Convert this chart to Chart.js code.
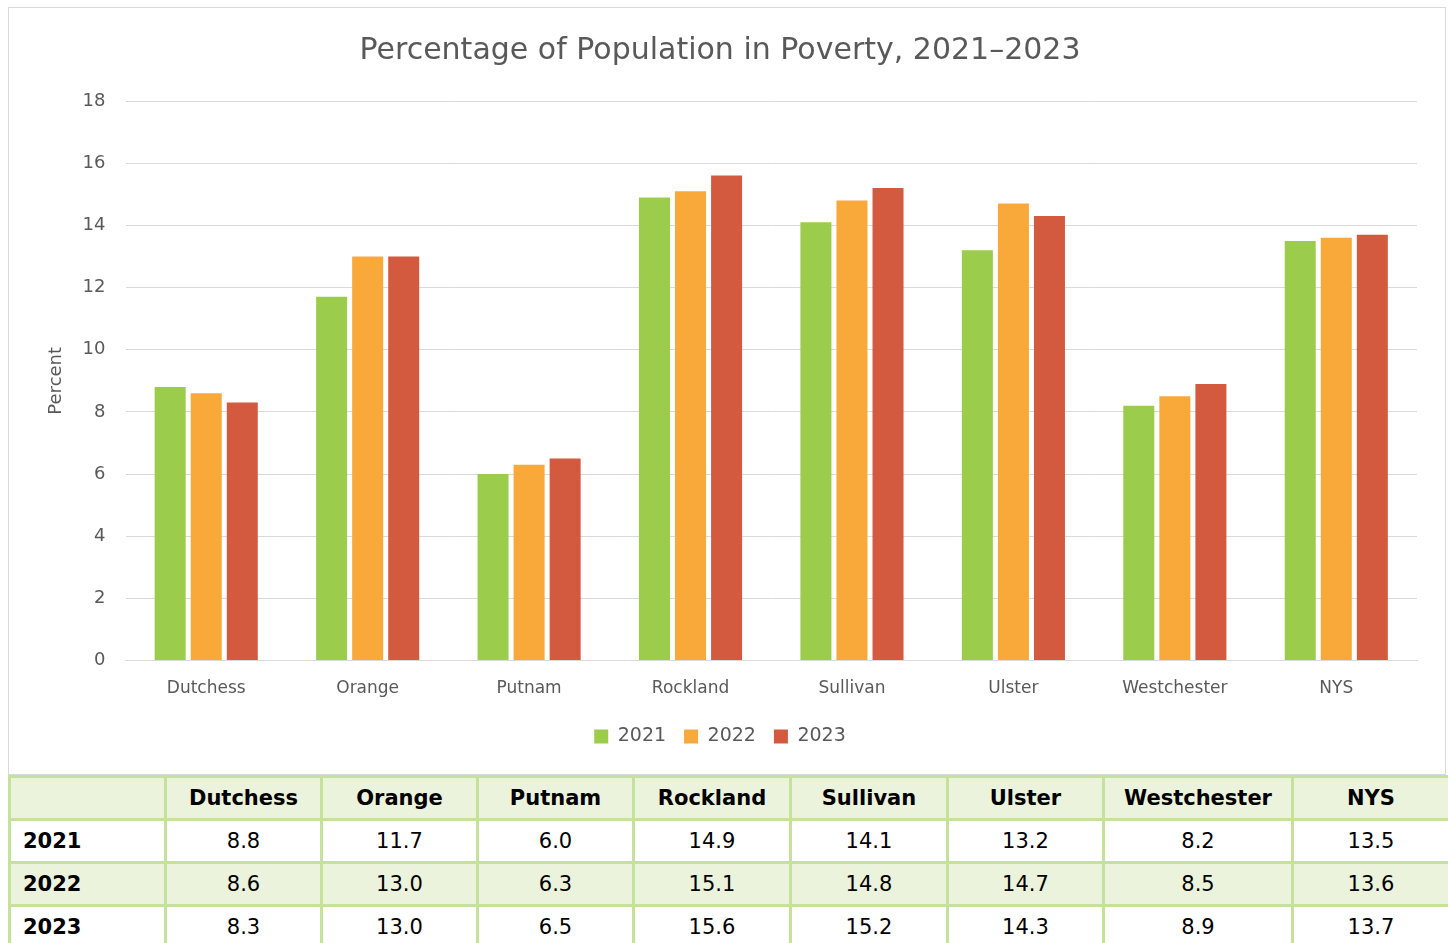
<!DOCTYPE html>
<html>
<head>
<meta charset="utf-8">
<script src="https://cdn.jsdelivr.net/npm/chart.js@4.4.1/dist/chart.umd.min.js"></script>
<style>
    body { margin: 0; background: #fff; font-family: "DejaVu Sans", sans-serif; }
    #chart-box {
        position: absolute; left: 8px; top: 7px; width: 1436px; height: 766px;
        border: 1px solid #d9d9d9; background: #fff;
    }
    #data-table {
        position: absolute; left: 8px; top: 775px; width: 1440px;
        border-collapse: collapse; table-layout: fixed;
    }
    #data-table td, #data-table th {
        border: 3px solid #c5e19b; height: 40px; padding: 0;
        font-size: 21px; color: #000; text-align: center;
    }
    #data-table th { font-weight: bold; }
    #data-table td.year { font-weight: bold; text-align: left; padding-left: 12px; }
    #data-table tr.shade { background: #ebf3dc; }
</style>
</head>
<body>
<div id="chart-box"><canvas id="povertyChart"></canvas></div>
<table id="data-table"></table>
<script>
// Data
const counties = ['Dutchess', 'Orange', 'Putnam', 'Rockland', 'Sullivan', 'Ulster', 'Westchester', 'NYS'];
const years = ['2021', '2022', '2023'];
const pov2021 = [8.8, 11.7, 6.0, 14.9, 14.1, 13.2, 8.2, 13.5];
const pov2022 = [8.6, 13.0, 6.3, 15.1, 14.8, 14.7, 8.5, 13.6];
const pov2023 = [8.3, 13.0, 6.5, 15.6, 15.2, 14.3, 8.9, 13.7];
const yTicks = [0, 2, 4, 6, 8, 10, 12, 14, 16, 18];

const seriesColors = ['#9ccc4b', '#f9a83a', '#d45a3f'];
const allSeries = [pov2021, pov2022, pov2023];
const textGrey = '#595959';
const fontFamily = '"DejaVu Sans", sans-serif';

// Chart
const ctx = document.getElementById('povertyChart').getContext('2d');
new Chart(ctx, {
    type: 'bar',
    data: {
        labels: counties,
        datasets: years.map((yr, i) => ({
            label: yr,
            data: allSeries[i],
            backgroundColor: seriesColors[i],
            categoryPercentage: 0.67,
            barPercentage: 0.86
        }))
    },
    options: {
        responsive: true,
        maintainAspectRatio: false,
        animation: false,
        layout: { padding: { left: 14, right: 28, top: 11, bottom: 18 } },
        plugins: {
            title: {
                display: true,
                text: 'Percentage of Population in Poverty, 2021\u20132023',
                color: textGrey,
                font: { family: fontFamily, size: 30, weight: 'normal' },
                padding: { top: 14, bottom: 32 }
            },
            legend: {
                position: 'bottom',
                labels: {
                    color: textGrey,
                    font: { family: fontFamily, size: 19 },
                    boxWidth: 14, boxHeight: 14, padding: 18
                }
            },
            tooltip: { enabled: false }
        },
        scales: {
            x: {
                grid: { display: false },
                border: { color: '#d9d9d9' },
                ticks: { color: textGrey, font: { family: fontFamily, size: 17 }, padding: 10 }
            },
            y: {
                min: 0, max: 18,
                afterBuildTicks: axis => { axis.ticks = yTicks.map(v => ({ value: v })); },
                grid: { color: '#d9d9d9', drawTicks: false },
                border: { display: false },
                ticks: { color: textGrey, font: { family: fontFamily, size: 18 }, padding: 20 },
                title: {
                    display: true, text: 'Percent', color: textGrey,
                    font: { family: fontFamily, size: 18 }, padding: { top: 23, bottom: -5 }
                }
            }
        }
    }
});

// Table
const table = document.getElementById('data-table');
const colWidths = [156, 156, 156, 156, 157, 157, 156, 189, 157];
let html = '<colgroup>' + colWidths.map(w => `<col style="width:${w}px">`).join('') + '</colgroup>';
html += '<tr class="shade"><th></th>' + counties.map(c => `<th>${c}</th>`).join('') + '</tr>';
years.forEach((yr, i) => {
    html += `<tr class="${i === 1 ? 'shade' : ''}"><td class="year">${yr}</td>` +
        allSeries[i].map(v => `<td>${v.toFixed(1)}</td>`).join('') + '</tr>';
});
table.innerHTML = html;
</script>
</body>
</html>
